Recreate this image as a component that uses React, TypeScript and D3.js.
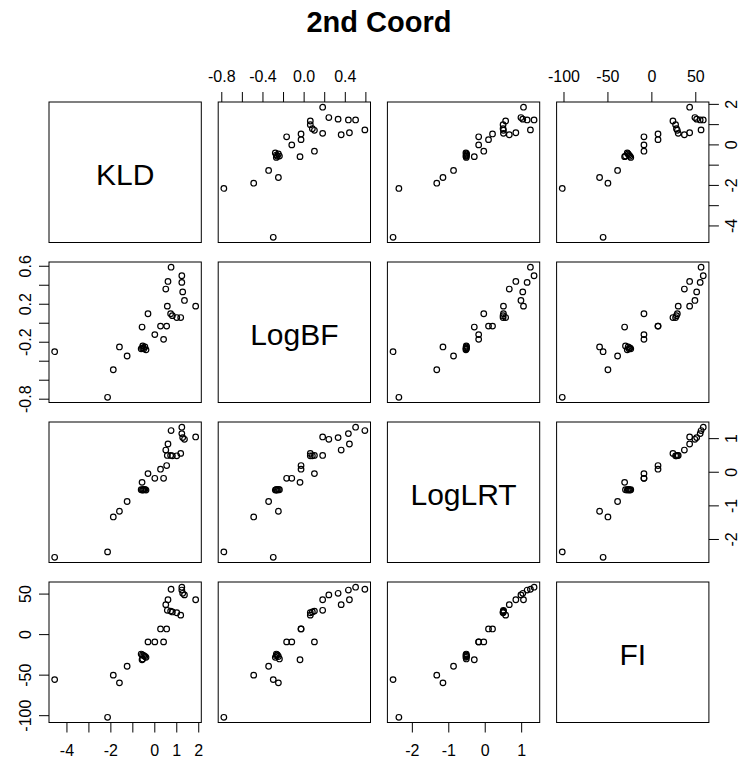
import React from "react";
import * as d3 from "d3";

// Variable names shown on the diagonal
const variables = ["KLD", "LogBF", "LogLRT", "FI"];

// Observations (one entry per case, same order in every array)
const kld = [-4.56, -2.15, -1.89, -1.61, -1.26, -0.62, -0.56, -0.5, -0.45, -0.4, -0.55, -0.58, -0.31, 0.0, 0.4, 0.26, 0.54, 0.5, 0.6, 0.57, 0.74, 0.8, 1.0, 1.18, 1.23, 1.23, 1.27, 1.35, 1.86, 0.72];
const logBF = [-0.3, -0.78, -0.49, -0.25, -0.345, -0.27, -0.26, -0.27, -0.25, -0.28, -0.24, -0.04, 0.1, -0.12, -0.17, -0.03, -0.03, 0.36, 0.44, 0.18, 0.59, 0.08, 0.06, 0.06, 0.5, 0.43, 0.33, 0.24, 0.18, 0.1];
const logLRT = [-2.53, -2.37, -1.33, -1.16, -0.87, -0.52, -0.53, -0.52, -0.51, -0.53, -0.52, -0.3, -0.04, -0.18, -0.18, 0.09, 0.2, 0.66, 0.84, 0.5, 1.24, 0.49, 0.49, 0.56, 1.34, 1.15, 1.03, 0.98, 1.05, 0.5];
const fi = [-55.5, -102, -50, -59.5, -39, -24, -25, -26, -27, -28, -30, -31, -9, -9, -9, 7, 7, 37, 43, 30, 56, 28, 27, 24, 58.5, 55, 51, 49, 43, 29];

// Tick marks and the subset of ticks that carry labels
const kldTicks = [-4, -3, -2, -1, 0, 1, 2];
const kldXLabels = [-4, -2, 0, 1, 2];
const kldYLabels = [-4, -2, 0, 2];
const logBFTicks = [-0.8, -0.6, -0.4, -0.2, 0, 0.2, 0.4, 0.6];
const logBFXLabels = [-0.8, -0.4, 0, 0.4];
const logBFYLabels = [-0.8, -0.2, 0.2, 0.6];
const logLRTTicks = [-2, -1, 0, 1];
const logLRTLabels = [-2, -1, 0, 1];
const fiTicks = [-100, -50, 0, 50];
const fiLabels = [-100, -50, 0, 50];

const title = "2nd Coord";

const W = 741;
const H = 764;
const LEFT = 49;
const TOP = 102;
const PW = 152.3;
const PH = 140.5;
const GX = 16.9;
const GY = 19.5;
const TICK = 10;
const FONT = "'Liberation Sans', Arial, Helvetica, sans-serif";

const series = [kld, logBF, logLRT, fi];
const ticks = [kldTicks, logBFTicks, logLRTTicks, fiTicks];
const xLabels = [kldXLabels, logBFXLabels, logLRTLabels, fiLabels];
const yLabels = [kldYLabels, logBFYLabels, logLRTLabels, fiLabels];
const fmt = [
  (v: number) => String(v),
  (v: number) => v.toFixed(1),
  (v: number) => String(v),
  (v: number) => String(v),
];

function paddedDomain(values: number[]): [number, number] {
  const [lo, hi] = d3.extent(values) as [number, number];
  const pad = 0.04 * (hi - lo);
  return [lo - pad, hi + pad];
}

export default function App() {
  const xScales = series.map((s) => d3.scaleLinear().domain(paddedDomain(s)).range([0, PW]));
  const yScales = series.map((s) => d3.scaleLinear().domain(paddedDomain(s)).range([PH, 0]));
  const colX = (j: number) => LEFT + j * (PW + GX);
  const rowY = (i: number) => TOP + i * (PH + GY);
  const n = variables.length;
  const lastBottom = rowY(n - 1) + PH;
  const lastRight = colX(n - 1) + PW;

  const panels: React.ReactNode[] = [];
  for (let i = 0; i < n; i++) {
    for (let j = 0; j < n; j++) {
      const x0 = colX(j);
      const y0 = rowY(i);
      panels.push(
        <g key={`p-${i}-${j}`} transform={`translate(${x0},${y0})`}>
          <rect x={0} y={0} width={PW} height={PH} fill="none" stroke="#000" strokeWidth={1} />
          {i === j ? (
            <text x={PW / 2} y={PH / 2 + 12.5} textAnchor="middle" fontSize={30} fontFamily={FONT} fill="#000">
              {variables[i]}
            </text>
          ) : (
            series[j].map((_, k) => (
              <circle
                key={k}
                cx={xScales[j](series[j][k])}
                cy={yScales[i](series[i][k])}
                r={2.8}
                fill="none"
                stroke="#000"
                strokeWidth={1.2}
              />
            ))
          )}
        </g>
      );
    }
  }

  // Horizontal axes: odd columns on top, even columns at the bottom
  const xAxes = variables.map((_, j) => {
    const onTop = j % 2 === 1;
    const base = onTop ? TOP : lastBottom;
    const dir = onTop ? -1 : 1;
    const x0 = colX(j);
    return (
      <g key={`xa-${j}`}>
        {ticks[j].map((t) => (
          <line key={t} x1={x0 + xScales[j](t)} x2={x0 + xScales[j](t)} y1={base} y2={base + dir * TICK} stroke="#000" strokeWidth={1} />
        ))}
        {xLabels[j].map((t) => (
          <text key={t} x={x0 + xScales[j](t)} y={onTop ? base - 20.5 : base + 33.5} textAnchor="middle" fontSize={16} fontFamily={FONT} fill="#000">
            {fmt[j](t)}
          </text>
        ))}
      </g>
    );
  });

  // Vertical axes: even rows on the right, odd rows on the left
  const yAxes = variables.map((_, i) => {
    const onRight = i % 2 === 0;
    const base = onRight ? lastRight : LEFT;
    const dir = onRight ? 1 : -1;
    const y0 = rowY(i);
    const labelX = onRight ? base + 28.5 : base - 18.3;
    return (
      <g key={`ya-${i}`}>
        {ticks[i].map((t) => (
          <line key={t} x1={base} x2={base + dir * TICK} y1={y0 + yScales[i](t)} y2={y0 + yScales[i](t)} stroke="#000" strokeWidth={1} />
        ))}
        {yLabels[i].map((t) => (
          <text
            key={t}
            transform={`translate(${labelX},${y0 + yScales[i](t)}) rotate(-90)`}
            textAnchor="middle"
            fontSize={16}
            fontFamily={FONT}
            fill="#000"
          >
            {fmt[i](t)}
          </text>
        ))}
      </g>
    );
  });

  return (
    <svg
      width={W}
      height={H}
      viewBox={`0 0 ${W} ${H}`}
      style={{ position: "absolute", left: 0, top: 0, background: "#fff", overflow: "hidden" }}
    >
      <rect x={0} y={0} width={W} height={H} fill="#fff" />
      <text x={(LEFT + lastRight) / 2} y={31.5} textAnchor="middle" fontSize={29} fontWeight="bold" fontFamily={FONT} fill="#000">
        {title}
      </text>
      {panels}
      {xAxes}
      {yAxes}
    </svg>
  );
}
